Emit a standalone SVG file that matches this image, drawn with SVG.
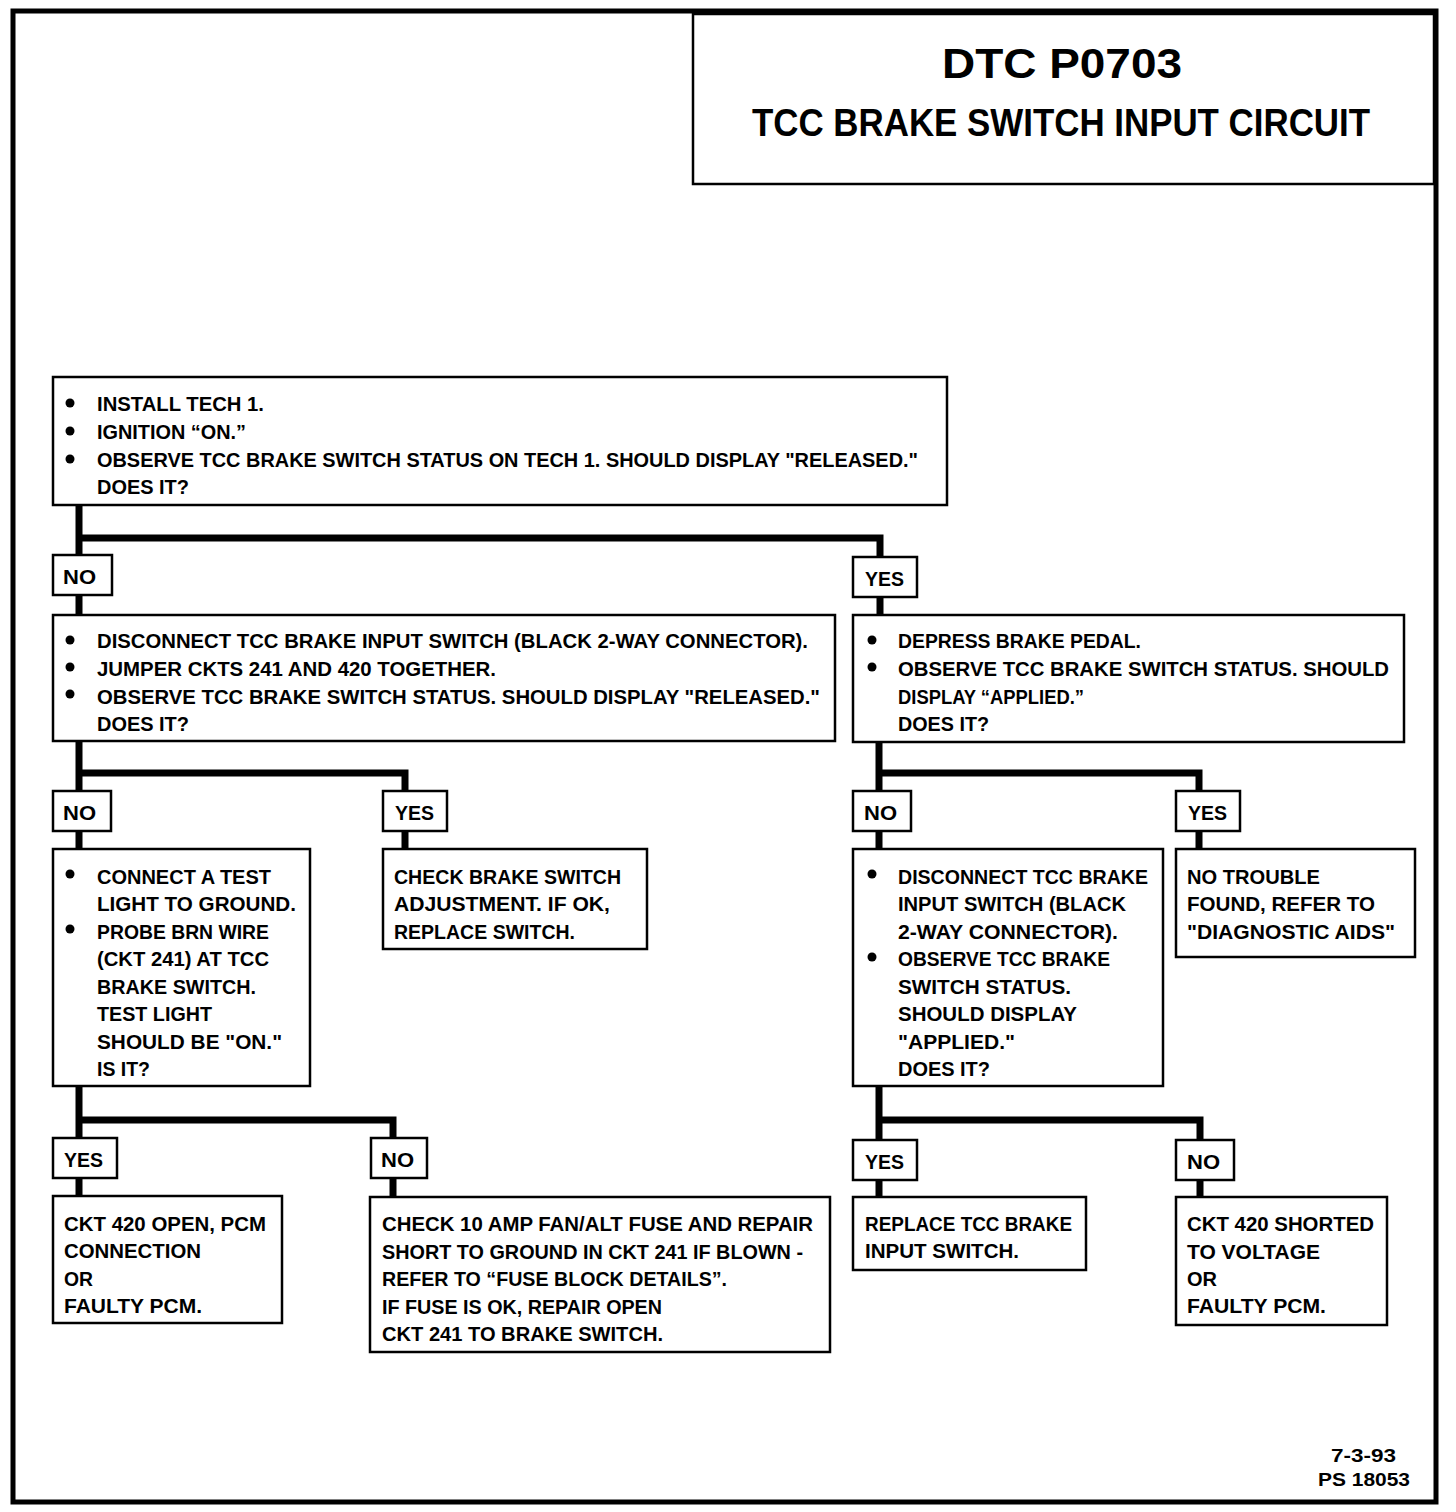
<svg xmlns="http://www.w3.org/2000/svg" width="1456" height="1512" viewBox="0 0 1456 1512">
<style>
text{font-family:"Liberation Sans Narrow","Liberation Sans",Arial,sans-serif;font-weight:bold;fill:#000}
.t{font-size:21px}
.box{fill:#fff;stroke:#000;stroke-width:2.5}
.lbl{fill:#fff;stroke:#000;stroke-width:2.5}
.con{fill:none;stroke:#000;stroke-width:7;stroke-linejoin:miter;stroke-linecap:butt}
.b{fill:#000}
</style>
<rect x="0" y="0" width="1456" height="1512" fill="#fff"/>
<rect id="frame" x="13" y="11" width="1423" height="1491" fill="none" stroke="#000" stroke-width="5"/>
<g id="title">
<rect x="693" y="14" width="741" height="170" fill="#fff" stroke="#000" stroke-width="2.5"/>
<text x="1062" y="78" font-size="42" text-anchor="middle" textLength="240" lengthAdjust="spacingAndGlyphs">DTC P0703</text>
<text x="1061" y="136" font-size="38" text-anchor="middle" textLength="618" lengthAdjust="spacingAndGlyphs">TCC BRAKE SWITCH INPUT CIRCUIT</text>
</g>
<g id="connectors">
<path class="con" d="M79 505 V555 M79 538 H880 V557"/>
<path class="con" d="M79 595 V615 M880 597 V615"/>
<path class="con" d="M79 741 V791 M79 773 H405 V791"/>
<path class="con" d="M879 742 V791 M879 773 H1199 V791"/>
<path class="con" d="M79 831 V849 M405 831 V849 M879 831 V849 M1199 831 V849"/>
<path class="con" d="M79 1086 V1138 M79 1120 H393 V1138"/>
<path class="con" d="M879 1086 V1140 M879 1120 H1200 V1140"/>
<path class="con" d="M79 1178 V1196 M393 1178 V1197 M879 1180 V1197 M1200 1180 V1197"/>
</g>
<g id="n1">
<rect class="box" x="53" y="377" width="894" height="128"/>
<circle class="b" cx="70" cy="403" r="4.5"/><circle class="b" cx="70" cy="431" r="4.5"/><circle class="b" cx="70" cy="459" r="4.5"/>
<text class="t" x="97" y="411" textLength="167" lengthAdjust="spacingAndGlyphs">INSTALL TECH 1.</text>
<text class="t" x="97" y="439" textLength="149" lengthAdjust="spacingAndGlyphs">IGNITION “ON.”</text>
<text class="t" x="97" y="467" textLength="821" lengthAdjust="spacingAndGlyphs">OBSERVE TCC BRAKE SWITCH STATUS ON TECH 1.  SHOULD DISPLAY "RELEASED."</text>
<text class="t" x="97" y="494" textLength="92" lengthAdjust="spacingAndGlyphs">DOES IT?</text>
</g>
<g id="l1no"><rect class="lbl" x="53" y="555" width="59" height="40"/><text class="t" x="63" y="584" textLength="33" lengthAdjust="spacingAndGlyphs">NO</text></g>
<g id="l1yes"><rect class="lbl" x="853" y="557" width="64" height="40"/><text class="t" x="865" y="586" textLength="39" lengthAdjust="spacingAndGlyphs">YES</text></g>
<g id="n2">
<rect class="box" x="53" y="615" width="782" height="126"/>
<circle class="b" cx="70" cy="640" r="4.5"/><circle class="b" cx="70" cy="667" r="4.5"/><circle class="b" cx="70" cy="694" r="4.5"/>
<text class="t" x="97" y="648" textLength="711" lengthAdjust="spacingAndGlyphs">DISCONNECT TCC BRAKE INPUT SWITCH (BLACK 2-WAY CONNECTOR).</text>
<text class="t" x="97" y="676" textLength="399" lengthAdjust="spacingAndGlyphs">JUMPER CKTS 241 AND 420 TOGETHER.</text>
<text class="t" x="97" y="704" textLength="723" lengthAdjust="spacingAndGlyphs">OBSERVE TCC BRAKE SWITCH STATUS.  SHOULD DISPLAY "RELEASED."</text>
<text class="t" x="97" y="731" textLength="92" lengthAdjust="spacingAndGlyphs">DOES IT?</text>
</g>
<g id="n3">
<rect class="box" x="853" y="615" width="551" height="127"/>
<circle class="b" cx="872" cy="640" r="4.5"/><circle class="b" cx="872" cy="667" r="4.5"/>
<text class="t" x="898" y="648" textLength="243" lengthAdjust="spacingAndGlyphs">DEPRESS BRAKE PEDAL.</text>
<text class="t" x="898" y="676" textLength="491" lengthAdjust="spacingAndGlyphs">OBSERVE TCC BRAKE SWITCH STATUS.  SHOULD</text>
<text class="t" x="898" y="704" textLength="186" lengthAdjust="spacingAndGlyphs">DISPLAY “APPLIED.”</text>
<text class="t" x="898" y="731" textLength="91" lengthAdjust="spacingAndGlyphs">DOES IT?</text>
</g>
<g id="l2no"><rect class="lbl" x="53" y="791" width="58" height="40"/><text class="t" x="63" y="820" textLength="33" lengthAdjust="spacingAndGlyphs">NO</text></g>
<g id="l2yes"><rect class="lbl" x="383" y="791" width="64" height="40"/><text class="t" x="395" y="820" textLength="39" lengthAdjust="spacingAndGlyphs">YES</text></g>
<g id="l3no"><rect class="lbl" x="853" y="791" width="58" height="40"/><text class="t" x="864" y="820" textLength="33" lengthAdjust="spacingAndGlyphs">NO</text></g>
<g id="l3yes"><rect class="lbl" x="1176" y="791" width="64" height="40"/><text class="t" x="1188" y="820" textLength="39" lengthAdjust="spacingAndGlyphs">YES</text></g>
<g id="n4">
<rect class="box" x="53" y="849" width="257" height="237"/>
<circle class="b" cx="70" cy="874" r="4.5"/><circle class="b" cx="70" cy="929" r="4.5"/>
<text class="t" x="97" y="884" textLength="174" lengthAdjust="spacingAndGlyphs">CONNECT A TEST</text>
<text class="t" x="97" y="911" textLength="199" lengthAdjust="spacingAndGlyphs">LIGHT TO GROUND.</text>
<text class="t" x="97" y="939" textLength="172" lengthAdjust="spacingAndGlyphs">PROBE BRN WIRE</text>
<text class="t" x="97" y="966" textLength="172" lengthAdjust="spacingAndGlyphs">(CKT 241) AT TCC</text>
<text class="t" x="97" y="994" textLength="159" lengthAdjust="spacingAndGlyphs">BRAKE SWITCH.</text>
<text class="t" x="97" y="1021" textLength="115" lengthAdjust="spacingAndGlyphs">TEST LIGHT</text>
<text class="t" x="97" y="1049" textLength="185" lengthAdjust="spacingAndGlyphs">SHOULD BE "ON."</text>
<text class="t" x="97" y="1076" textLength="53" lengthAdjust="spacingAndGlyphs">IS IT?</text>
</g>
<g id="n5">
<rect class="box" x="383" y="849" width="264" height="100"/>
<text class="t" x="394" y="884" textLength="227" lengthAdjust="spacingAndGlyphs">CHECK BRAKE SWITCH</text>
<text class="t" x="394" y="911" textLength="216" lengthAdjust="spacingAndGlyphs">ADJUSTMENT.  IF OK,</text>
<text class="t" x="394" y="939" textLength="181" lengthAdjust="spacingAndGlyphs">REPLACE SWITCH.</text>
</g>
<g id="n6">
<rect class="box" x="853" y="849" width="310" height="237"/>
<circle class="b" cx="872" cy="874" r="4.5"/><circle class="b" cx="872" cy="957" r="4.5"/>
<text class="t" x="898" y="884" textLength="250" lengthAdjust="spacingAndGlyphs">DISCONNECT TCC BRAKE</text>
<text class="t" x="898" y="911" textLength="228" lengthAdjust="spacingAndGlyphs">INPUT SWITCH (BLACK</text>
<text class="t" x="898" y="939" textLength="220" lengthAdjust="spacingAndGlyphs">2-WAY CONNECTOR).</text>
<text class="t" x="898" y="966" textLength="212" lengthAdjust="spacingAndGlyphs">OBSERVE TCC BRAKE</text>
<text class="t" x="898" y="994" textLength="173" lengthAdjust="spacingAndGlyphs">SWITCH STATUS.</text>
<text class="t" x="898" y="1021" textLength="179" lengthAdjust="spacingAndGlyphs">SHOULD DISPLAY</text>
<text class="t" x="898" y="1049" textLength="117" lengthAdjust="spacingAndGlyphs">"APPLIED."</text>
<text class="t" x="898" y="1076" textLength="92" lengthAdjust="spacingAndGlyphs">DOES IT?</text>
</g>
<g id="n7">
<rect class="box" x="1176" y="849" width="239" height="108"/>
<text class="t" x="1187" y="884" textLength="133" lengthAdjust="spacingAndGlyphs">NO TROUBLE</text>
<text class="t" x="1187" y="911" textLength="188" lengthAdjust="spacingAndGlyphs">FOUND,  REFER TO</text>
<text class="t" x="1187" y="939" textLength="208" lengthAdjust="spacingAndGlyphs">"DIAGNOSTIC AIDS"</text>
</g>
<g id="l4yes"><rect class="lbl" x="53" y="1138" width="64" height="40"/><text class="t" x="64" y="1167" textLength="39" lengthAdjust="spacingAndGlyphs">YES</text></g>
<g id="l4no"><rect class="lbl" x="371" y="1138" width="56" height="40"/><text class="t" x="381" y="1167" textLength="33" lengthAdjust="spacingAndGlyphs">NO</text></g>
<g id="l5yes"><rect class="lbl" x="853" y="1140" width="64" height="40"/><text class="t" x="865" y="1169" textLength="39" lengthAdjust="spacingAndGlyphs">YES</text></g>
<g id="l5no"><rect class="lbl" x="1176" y="1140" width="58" height="40"/><text class="t" x="1187" y="1169" textLength="33" lengthAdjust="spacingAndGlyphs">NO</text></g>
<g id="n8">
<rect class="box" x="53" y="1196" width="229" height="127"/>
<text class="t" x="64" y="1231" textLength="202" lengthAdjust="spacingAndGlyphs">CKT 420 OPEN, PCM</text>
<text class="t" x="64" y="1258" textLength="137" lengthAdjust="spacingAndGlyphs">CONNECTION</text>
<text class="t" x="64" y="1286" textLength="29" lengthAdjust="spacingAndGlyphs">OR</text>
<text class="t" x="64" y="1313" textLength="138" lengthAdjust="spacingAndGlyphs">FAULTY PCM.</text>
</g>
<g id="n9">
<rect class="box" x="370" y="1197" width="460" height="155"/>
<text class="t" x="382" y="1231" textLength="431" lengthAdjust="spacingAndGlyphs">CHECK 10 AMP FAN/ALT FUSE AND REPAIR</text>
<text class="t" x="382" y="1259" textLength="421" lengthAdjust="spacingAndGlyphs">SHORT TO GROUND IN CKT 241 IF BLOWN -</text>
<text class="t" x="382" y="1286" textLength="345" lengthAdjust="spacingAndGlyphs">REFER TO “FUSE BLOCK DETAILS”.</text>
<text class="t" x="382" y="1314" textLength="280" lengthAdjust="spacingAndGlyphs">IF FUSE IS OK, REPAIR OPEN</text>
<text class="t" x="382" y="1341" textLength="281" lengthAdjust="spacingAndGlyphs">CKT 241 TO BRAKE SWITCH.</text>
</g>
<g id="n10">
<rect class="box" x="853" y="1197" width="233" height="73"/>
<text class="t" x="865" y="1231" textLength="207" lengthAdjust="spacingAndGlyphs">REPLACE TCC BRAKE</text>
<text class="t" x="865" y="1258" textLength="154" lengthAdjust="spacingAndGlyphs">INPUT SWITCH.</text>
</g>
<g id="n11">
<rect class="box" x="1176" y="1197" width="211" height="128"/>
<text class="t" x="1187" y="1231" textLength="187" lengthAdjust="spacingAndGlyphs">CKT 420 SHORTED</text>
<text class="t" x="1187" y="1259" textLength="133" lengthAdjust="spacingAndGlyphs">TO VOLTAGE</text>
<text class="t" x="1187" y="1286" textLength="30" lengthAdjust="spacingAndGlyphs">OR</text>
<text class="t" x="1187" y="1313" textLength="139" lengthAdjust="spacingAndGlyphs">FAULTY PCM.</text>
</g>
<g id="footer">
<text x="1331" y="1462" font-size="19" textLength="65" lengthAdjust="spacingAndGlyphs">7-3-93</text>
<text x="1318" y="1486" font-size="19" textLength="92" lengthAdjust="spacingAndGlyphs">PS 18053</text>
</g>
</svg>
